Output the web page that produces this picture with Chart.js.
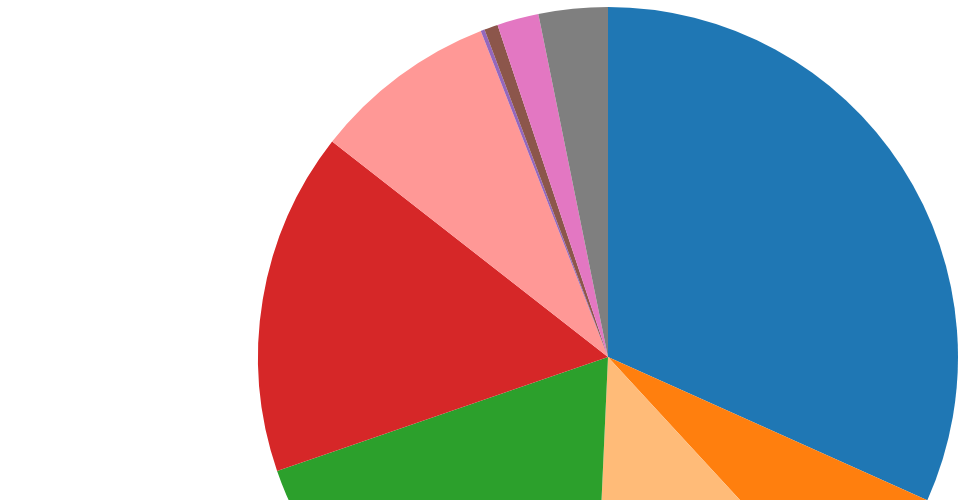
<!DOCTYPE html>
<html>
<head>
<meta charset="utf-8">
<script src="https://cdn.jsdelivr.net/npm/chart.js@4/dist/chart.umd.min.js"></script>
<style>
    html, body { margin: 0; padding: 0; background: #fff; overflow: hidden; }
    #wrap { width: 960px; height: 500px; overflow: hidden; position: relative; }
    canvas { display: block; }
</style>
</head>
<body>
<div id="wrap"><canvas id="pieChart" width="960" height="714"></canvas></div>
<script>
// Slice data (percent of whole), clockwise from 12 o'clock
const categories = ['A', 'B', 'C', 'D', 'E', 'F', 'G', 'H', 'I', 'J'];
const shares = [31.71, 6.43, 12.58, 19.0, 15.83, 8.53, 0.18, 0.63, 1.92, 3.19];
const sliceColors = [
    '#1f77b4', '#ff7f0e', '#ffbb78', '#2ca02c', '#d62728',
    '#ff9896', '#9467bd', '#8c564b', '#e377c2', '#7f7f7f'
];

const ctx = document.getElementById('pieChart').getContext('2d');
const pieChart = new Chart(ctx, {
    type: 'pie',
    data: {
        labels: categories,
        datasets: [{
            data: shares,
            backgroundColor: sliceColors,
            borderWidth: 0
        }]
    },
    options: {
        responsive: false,
        animation: false,
        layout: {
            // pie is 700px across, centred at (608, 357); bottom part runs off the page
            padding: { left: 258, right: 2, top: 7, bottom: 7 }
        },
        plugins: {
            legend: { display: false },
            tooltip: { enabled: false }
        }
    }
});
</script>
</body>
</html>
